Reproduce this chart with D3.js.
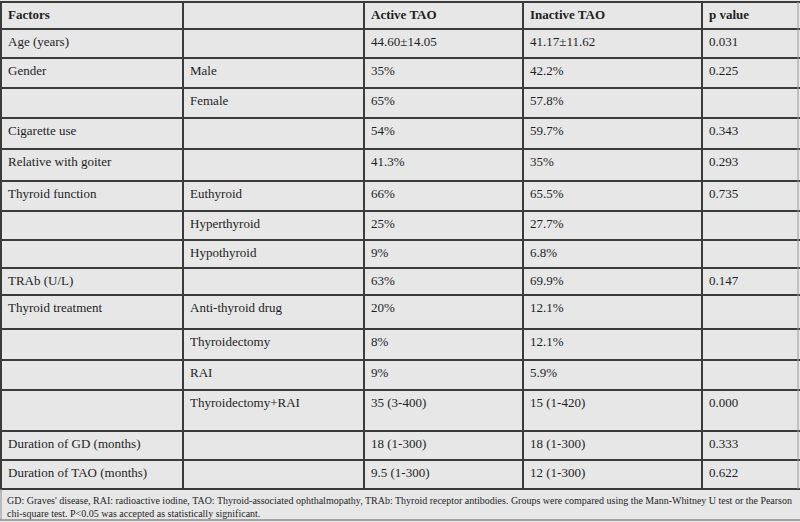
<!DOCTYPE html>
<html>
<head>
<meta charset="utf-8">
<script src="https://cdn.jsdelivr.net/npm/d3@7"></script>
<style>
  html, body { margin: 0; padding: 0; background: #ffffff; }
  svg { display: block; }
</style>
</head>
<body>
<svg id="chart" width="800" height="522"></svg>
<script>
// ---- data ----
const headers = ["Factors", "", "Active TAO", "Inactive TAO", "p value"];
const factors = ["Age (years)", "Gender", "", "Cigarette use", "Relative with goiter",
  "Thyroid function", "", "", "TRAb (U/L)", "Thyroid treatment", "", "", "",
  "Duration of GD (months)", "Duration of TAO (months)"];
const subFactors = ["", "Male", "Female", "", "", "Euthyroid", "Hyperthyroid", "Hypothyroid",
  "", "Anti-thyroid drug", "Thyroidectomy", "RAI", "Thyroidectomy+RAI", "", ""];
const activeTAO = ["44.60\u00b114.05", "35%", "65%", "54%", "41.3%", "66%", "25%", "9%",
  "63%", "20%", "8%", "9%", "35 (3-400)", "18 (1-300)", "9.5 (1-300)"];
const inactiveTAO = ["41.17\u00b111.62", "42.2%", "57.8%", "59.7%", "35%", "65.5%", "27.7%", "6.8%",
  "69.9%", "12.1%", "12.1%", "5.9%", "15 (1-420)", "18 (1-300)", "12 (1-300)"];
const pValues = ["0.031", "0.225", "", "0.343", "0.293", "0.735", "", "", "0.147", "", "", "", "0.000", "0.333", "0.622"];
const footnoteLines = [
  "GD: Graves' disease, RAI: radioactive iodine, TAO: Thyroid-associated ophthalmopathy, TRAb: Thyroid receptor antibodies. Groups were compared using the Mann-Whitney U test or the Pearson",
  "chi-square test. P<0.05 was accepted as statistically significant."
];

// ---- layout (not data) ----
const colEdges = [1, 183, 364, 523, 702, 798];
const rowHeights = [27, 29, 30, 30, 31, 32, 30, 29, 28, 27, 34, 31, 30, 41, 29, 29];
const tableTop = 2;
const footBottom = 520;

const rows = [headers].concat(factors.map((f, i) => [f, subFactors[i], activeTAO[i], inactiveTAO[i], pValues[i]]));
const rowEdges = [tableTop].concat(Array.from(d3.cumsum(rowHeights)).map(v => tableTop + v));

const svg = d3.select("#chart");
const bg = "#e7e7e8";
const lineColor = "#3b3b3b";
const textColor = "#1e1e1e";
const font = "'Liberation Serif', 'Times New Roman', serif";

svg.append("rect").attr("x", 0).attr("y", 0).attr("width", 800).attr("height", 522).attr("fill", bg);

const y = i => rowEdges[i];

// text
const rowG = svg.selectAll("g.row").data(rows).join("g").attr("class", "row")
  .attr("transform", (d, i) => `translate(0,${y(i)})`);

rowG.selectAll("text").data((d, i) => d.map(t => ({ t, header: i === 0 })))
  .join("text")
  .attr("x", (d, j) => colEdges[j] + 7)
  .attr("y", 17)
  .attr("fill", textColor)
  .attr("font-family", font)
  .attr("font-size", 13)
  .attr("font-weight", d => d.header ? "bold" : "normal")
  .text(d => d.t);

// horizontal lines
const lastRow = rowEdges[rowEdges.length - 1];
svg.selectAll("line.h").data(rowEdges).join("line").attr("class", "h")
  .attr("x1", 0).attr("x2", 800)
  .attr("y1", d => d).attr("y2", d => d)
  .attr("stroke", lineColor).attr("stroke-width", 2);

// vertical lines
svg.selectAll("line.v").data(colEdges).join("line").attr("class", "v")
  .attr("x1", d => d).attr("x2", d => d)
  .attr("y1", tableTop).attr("y2", lastRow)
  .attr("stroke", (d, i) => i === colEdges.length - 1 ? "#9a9a9a" : lineColor)
  .attr("stroke-width", (d, i) => i === colEdges.length - 1 ? 1 : 2);

// footnote
svg.selectAll("text.foot").data(footnoteLines).join("text").attr("class", "foot")
  .attr("x", 7)
  .attr("y", (d, i) => lastRow + 15 + i * 13)
  .attr("fill", textColor)
  .attr("font-family", font)
  .attr("font-size", 10)
  .each(function (d, i) {
    if (i === 0) d3.select(this).attr("textLength", 785).attr("lengthAdjust", "spacingAndGlyphs");
  })
  .text(d => d);

svg.append("line").attr("x1", 0).attr("x2", 800).attr("y1", footBottom).attr("y2", footBottom)
  .attr("stroke", "#8c8c8c").attr("stroke-width", 1.5);
svg.append("line").attr("x1", 1).attr("x2", 1).attr("y1", lastRow).attr("y2", footBottom)
  .attr("stroke", "#8c8c8c").attr("stroke-width", 1);
</script>
</body>
</html>
